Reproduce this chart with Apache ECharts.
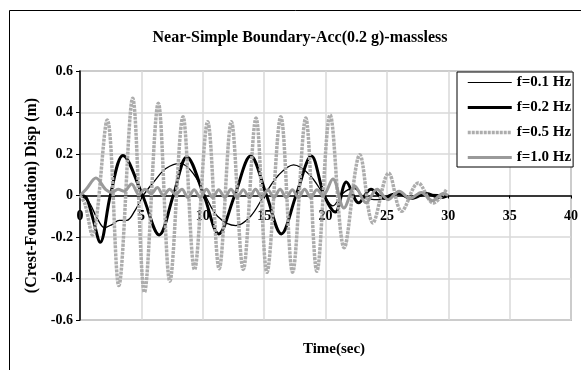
<!DOCTYPE html>
<html>
<head>
<meta charset="utf-8">
<script src="https://cdn.jsdelivr.net/npm/echarts@6/dist/echarts.min.js"></script>
<style>
  html, body { margin: 0; padding: 0; background: #fff; }
  #disp-chart { width: 581px; height: 370px; }
</style>
</head>
<body>
<div id="disp-chart"></div>
<script>
// values (time in sec, displacement in m)
var seriesNames = ['f=0.1 Hz', 'f=0.2 Hz', 'f=0.5 Hz', 'f=1.0 Hz'];

var f01Time = [0, 0.7, 1.4, 2.0, 2.6, 3.2, 3.8, 4.5, 5.15, 6.0, 7.0, 8.2, 9.3, 10.2, 11.2, 12.7, 13.9, 15.0, 16.2, 17.4, 18.7, 19.9, 20.6, 21.4, 22.3, 23.2, 24.3, 25.6, 27.0, 28.5, 30.0];
var f01Disp = [0, -0.03, -0.11, -0.155, -0.14, -0.12, -0.12, -0.07, 0, 0.065, 0.13, 0.155, 0.1, 0, -0.1, -0.145, -0.1, 0, 0.1, 0.148, 0.1, 0, -0.05, 0.01, 0.035, -0.01, -0.02, 0.01, -0.01, 0.005, 0];

var f02Time = [0, 0.5, 1.0, 1.65, 2.47, 3.5, 5.1, 6.45, 7.6, 8.7, 10.1, 11.3, 12.6, 13.9, 15.2, 16.4, 17.6, 18.85, 19.9, 20.8, 21.7, 22.7, 23.7, 24.8, 25.9, 27.0, 28.2, 29.3, 30.0];
var f02Disp = [0, -0.01, -0.1, -0.225, 0, 0.193, 0, -0.19, 0, 0.186, 0, -0.185, 0, 0.19, 0, -0.185, 0, 0.19, 0, -0.08, 0.065, -0.035, 0.03, -0.015, 0.01, -0.015, 0.01, -0.01, 0];

var f05Time = [0, 0.4, 1.0, 2.22, 3.16, 4.29, 5.25, 6.38, 7.32, 8.39, 9.33, 10.4, 11.34, 12.33, 13.3, 14.34, 15.23, 16.36, 17.32, 18.39, 19.3, 20.38, 21.53, 22.8, 23.86, 25.15, 26.2, 27.56, 28.77, 29.85];
var f05Disp = [0, -0.04, -0.19, 0.364, -0.434, 0.469, -0.466, 0.445, -0.413, 0.38, -0.357, 0.356, -0.353, 0.356, -0.357, 0.373, -0.37, 0.38, -0.37, 0.373, -0.365, 0.388, -0.252, 0.196, -0.132, 0.108, -0.076, 0.06, -0.036, 0.028];

var f10Time = [0, 0.5, 1.3, 2.1, 2.6, 3.1, 3.6, 4.2, 4.8, 5.3, 5.8, 6.3, 6.8, 7.3, 7.8, 8.3, 8.8, 9.3, 9.8, 10.3, 10.8, 11.3, 11.8, 12.3, 12.8, 13.3, 13.8, 14.3, 14.8, 15.3, 15.8, 16.3, 16.8, 17.3, 17.8, 18.3, 18.8, 19.3, 19.8, 20.6, 21.5, 22.4, 23.3, 24.2, 25.1, 26.0, 26.9, 27.8, 28.7, 29.6, 30.0];
var f10Disp = [0, 0.03, 0.084, 0.028, 0.015, 0.03, 0.02, 0.056, 0.005, 0.03, 0.01, 0.038, 0, 0.03, 0.005, 0.03, -0.01, 0.028, -0.01, 0.03, -0.01, 0.028, -0.01, 0.03, -0.01, 0.028, -0.01, 0.03, -0.01, 0.028, -0.01, 0.03, -0.01, 0.028, -0.01, 0.03, -0.01, 0.028, 0, 0.08, -0.06, 0.045, -0.035, 0.03, -0.02, 0.02, -0.015, 0.015, -0.025, 0.01, 0];

var xTicks = [0, 5, 10, 15, 20, 25, 30, 35, 40];
var yTicks = [-0.6, -0.4, -0.2, 0, 0.2, 0.4, 0.6];

function pairs(ts, vs) {
    return ts.map(function (t, i) { return [t, vs[i]]; });
}

var FONT = '"Liberation Serif", "Times New Roman", serif';

var lineStyles = [
    {color: '#000', width: 1.3},
    {color: '#000', width: 3},
    {color: '#adadad', width: 3.5, type: [3, 1]},
    {color: '#9a9a9a', width: 3}
];

function getDispChart() {
    var myChart = echarts.init(document.getElementById('disp-chart'));
    var option = {
        animation: false,
        title: [{
            text: 'Near-Simple Boundary-Acc(0.2 g)-massless',
            left: 295,
            top: 25,
            textAlign: 'center',
            textStyle: {fontFamily: FONT, fontWeight: 'bold', fontSize: 16, color: '#000'}
        }, {
            text: 'Time(sec)',
            left: 329,
            top: 337,
            textAlign: 'center',
            textStyle: {fontFamily: FONT, fontWeight: 'bold', fontSize: 15, color: '#000'}
        }],
        graphic: [{
            type: 'rect',
            shape: {x: 9.5, y: 10.5, width: 620, height: 420},
            style: {fill: 'none', stroke: '#000', lineWidth: 1},
            silent: true
        }],
        legend: {
            data: seriesNames.map(function (n, i) {
                return {name: n, lineStyle: {width: i === 0 ? 1 : lineStyles[i].width}};
            }),
            orient: 'vertical',
            left: 457,
            top: 72,
            padding: [3, 2, 2, 9],
            itemGap: 10,
            itemWidth: 44,
            itemHeight: 14,
            backgroundColor: '#fff',
            borderColor: '#000',
            borderWidth: 1,
            itemStyle: {opacity: 0},
            textStyle: {fontFamily: FONT, fontWeight: 'bold', fontSize: 15, color: '#000'}
        },
        grid: {
            left: 80,
            top: 71,
            right: 3,
            bottom: 50,
            show: true,
            borderColor: '#8c8c8c',
            borderWidth: 1.5
        },
        xAxis: {
            type: 'value',
            min: xTicks[0],
            max: xTicks[xTicks.length - 1],
            interval: 5,
            position: 'bottom',
            offset: -124.5,
            axisLine: {onZero: false, lineStyle: {color: '#000', width: 1.5}},
            axisTick: {show: true, length: 3, lineStyle: {color: '#000'}},
            axisLabel: {
                margin: 14,
                fontFamily: FONT, fontWeight: 'bold', fontSize: 14, color: '#000'
            },
            splitLine: {show: true, lineStyle: {color: '#d9d9d9', width: 1.5}}
        },
        yAxis: {
            type: 'value',
            min: yTicks[0],
            max: yTicks[yTicks.length - 1],
            interval: 0.2,
            name: '(Crest-Foundation) Disp (m)',
            nameLocation: 'middle',
            nameGap: 40,
            nameTextStyle: {fontFamily: FONT, fontWeight: 'bold', fontSize: 16, color: '#000'},
            axisLine: {show: true, lineStyle: {color: '#000', width: 1.5}},
            axisTick: {show: true, length: 4, lineStyle: {color: '#000'}},
            axisLabel: {
                margin: 7,
                fontFamily: FONT, fontWeight: 'bold', fontSize: 14, color: '#000',
                formatter: function (v) { return String(Math.round(v * 10) / 10); }
            },
            splitLine: {show: true, lineStyle: {color: '#d9d9d9', width: 1.5}}
        },
        series: [{
            name: seriesNames[0],
            type: 'line',
            data: pairs(f01Time, f01Disp),
            smooth: 0.35,
            showSymbol: false,
            symbol: 'none',
            lineStyle: lineStyles[0]
        }, {
            name: seriesNames[1],
            type: 'line',
            data: pairs(f02Time, f02Disp),
            smooth: 0.35,
            showSymbol: false,
            symbol: 'none',
            lineStyle: lineStyles[1]
        }, {
            name: seriesNames[2],
            type: 'line',
            data: pairs(f05Time, f05Disp),
            smooth: 0.35,
            showSymbol: false,
            symbol: 'none',
            lineStyle: lineStyles[2]
        }, {
            name: seriesNames[3],
            type: 'line',
            data: pairs(f10Time, f10Disp),
            smooth: 0.35,
            showSymbol: false,
            symbol: 'none',
            lineStyle: lineStyles[3]
        }],
        color: ['#000', '#000', '#adadad', '#9a9a9a']
    };
    myChart.setOption(option);
}

getDispChart();
</script>
</body>
</html>
